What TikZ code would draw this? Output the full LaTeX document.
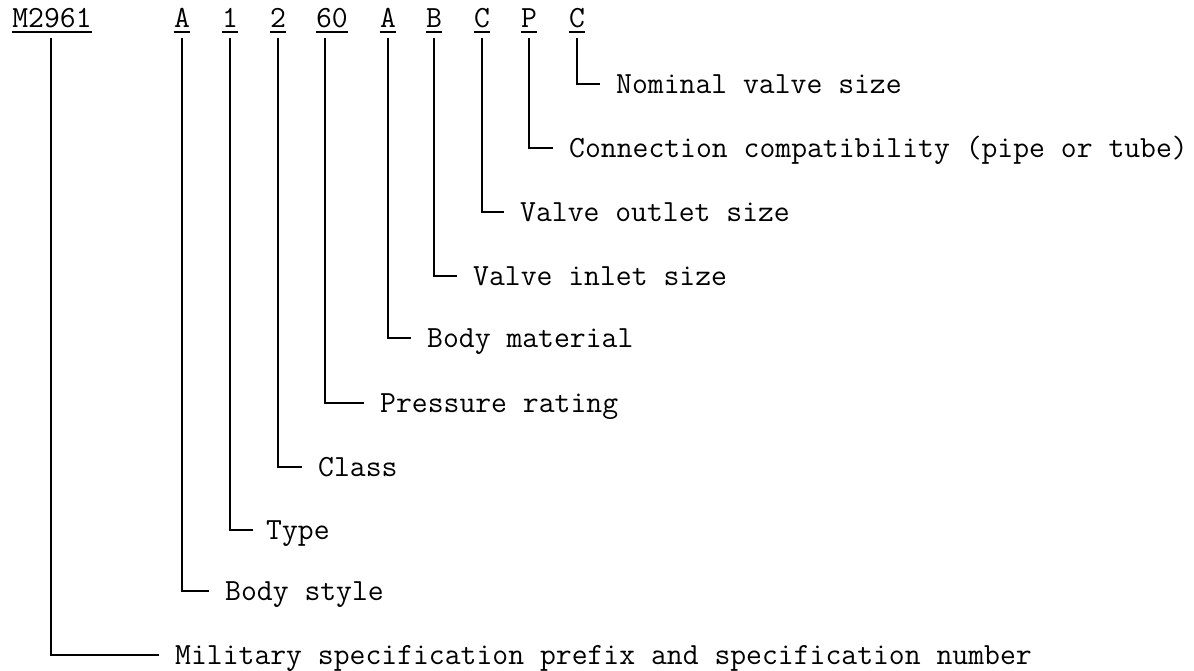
\documentclass[tikz,border=0pt]{standalone}
\usepackage{fontspec}
\begin{document}
\begin{tikzpicture}[x=1pt,y=-1pt,
  code/.style={font=\ttfamily\fontsize{30.8}{34}\selectfont, inner sep=0pt, text depth=0pt, anchor=base},
  lab/.style={font=\ttfamily\fontsize{30.8}{34}\selectfont, inner sep=0pt, anchor=base west},
  conn/.style={line width=2.2pt},
  uline/.style={line width=1.6pt}]
\useasboundingbox (0,0) rectangle (1194,670);
% code characters
\node[code] (tM)  at (52,27)  {M2961};
\node[code] (tA)  at (182,27) {A};
\node[code] (t1)  at (230,27) {1};
\node[code] (t2)  at (278,27) {2};
\node[code] (t60) at (332,27) {60};
\node[code] (tA2) at (388,27) {A};
\node[code] (tB)  at (434,27) {B};
\node[code] (tC)  at (482,27) {C};
\node[code] (tP)  at (529,27) {P};
\node[code] (tC2) at (577,27) {C};
\foreach \n in {tM,tA,t1,t2,t60,tA2,tB,tC,tP,tC2}
  \draw[uline] ([yshift=-5pt]\n.south west) -- ([yshift=-5pt]\n.south east);
% labels
\node[lab] (lNom)  at (616,93)  {Nominal valve size};
\node[lab] (lCon)  at (569,157) {Connection compatibility (pipe or tube)};
\node[lab] (lOut)  at (520,221) {Valve outlet size};
\node[lab] (lIn)   at (473,285) {Valve inlet size};
\node[lab] (lMat)  at (427,347) {Body material};
\node[lab] (lPre)  at (380,412) {Pressure rating};
\node[lab] (lCla)  at (318,476) {Class};
\node[lab] (lTyp)  at (266,539) {Type};
\node[lab] (lSty)  at (225,600) {Body style};
\node[lab] (lMil)  at (175,664) {Military specification prefix and specification number};
% connectors
\draw[conn] ([yshift=-11pt]tC2.south) |- ([shift={(-16,-9)}]lNom.base west);
\draw[conn] ([yshift=-11pt]tP.south)  |- ([shift={(-16,-9)}]lCon.base west);
\draw[conn] ([yshift=-11pt]tC.south)  |- ([shift={(-16,-9)}]lOut.base west);
\draw[conn] ([yshift=-11pt]tB.south)  |- ([shift={(-16,-9)}]lIn.base west);
\draw[conn] ([yshift=-11pt]tA2.south) |- ([shift={(-16,-9)}]lMat.base west);
\draw[conn] ([xshift=-7pt,yshift=-11pt]t60.south) |- ([shift={(-16,-9)}]lPre.base west);
\draw[conn] ([yshift=-11pt]t2.south)  |- ([shift={(-16,-9)}]lCla.base west);
\draw[conn] ([yshift=-11pt]t1.south)  |- ([shift={(-13,-9)}]lTyp.base west);
\draw[conn] ([yshift=-11pt]tA.south)  |- ([shift={(-16,-9)}]lSty.base west);
\draw[conn] ([xshift=-1pt,yshift=-11pt]tM.south) |- ([shift={(-16,-9)}]lMil.base west);
\end{tikzpicture}
\end{document}
